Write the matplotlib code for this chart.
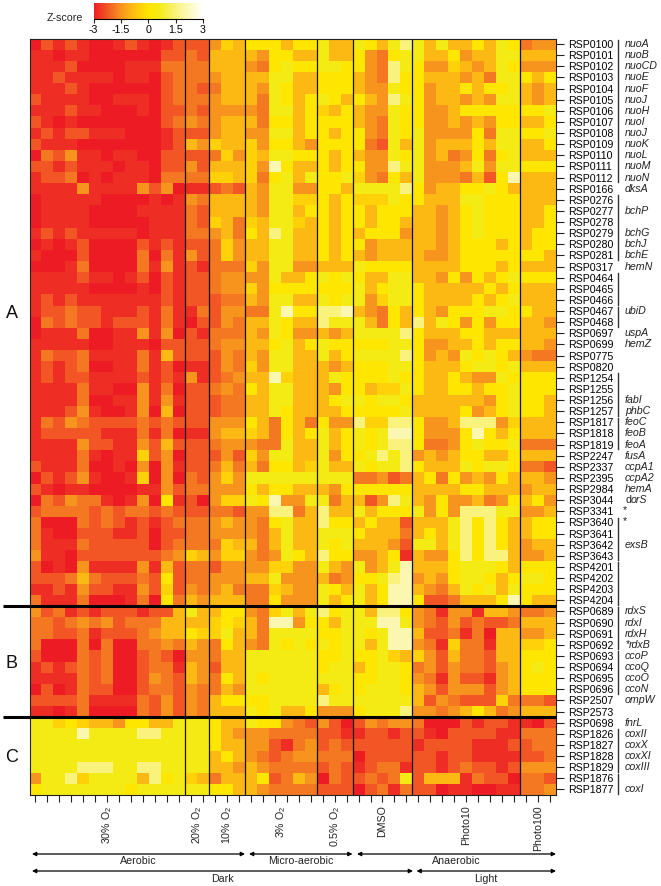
import numpy as np
import matplotlib
matplotlib.use("Agg")
import matplotlib.pyplot as plt
from matplotlib.colors import LinearSegmentedColormap

plt.rcParams['font.family'] = ['Liberation Sans', 'DejaVu Sans']
plt.rcParams['mathtext.default'] = 'regular'
plt.rcParams['axes.unicode_minus'] = False

# z-score of each level code used in the rows below
z_levels = [-3, -2.75, -2.25, -1.85, -1.5, -0.9, -0.4, 0, 0.6, 1.5, 2.1]

conditions = ['30% O$_2$', '20% O$_2$', '10% O$_2$', '3% O$_2$', '0.5% O$_2$', 'DMSO', 'Photo10', 'Photo100']
condition_sizes = [13, 2, 3, 6, 3, 5, 9, 3]

rows_a = [
    "0212100121012 22 465 777577 855 87589 858557587 344",
    "1101100000022 32 555 547755 855 74378 855745588 555",
    "1112000011133 33 555 437877 887 74398 744654587 444",
    "1121111011023 33 455 558855 777 54397 755545388 757",
    "1112100000023 32 355 548755 777 54487 745575778 545",
    "2111100111023 33 455 538757 875 75498 745545488 545",
    "1112110001022 32 444 438857 657 54487 744577777 778",
    "2101000000023 43 455 537757 777 54387 744545477 557",
    "1212211100012 22 455 448857 757 74387 844447388 778",
    "2111000000012 54 655 647754 777 73285 845557588 557",
    "0324110110022 22 364 658877 757 54487 845347378 555",
    "2212111011022 42 555 64a755 757 74498 844458488 777",
    "1223010111033 33 665 637858 778 64375 84443527a 555",
    "1111411114240 11 232 548844 775 88889 745577875 555",
    "0111110000101 43 555 548866 757 66687 755588777 555",
    "0111100001111 32 555 548857 757 75777 554578777 557",
    "0111100000111 32 653 658865 757 75775 554578777 557",
    "1212111110111 33 453 759855 757 57774 554578777 577",
    "0101200002121 22 364 558855 757 74555 554577757 577",
    "1000200003031 42 364 558855 757 54555 544577777 775",
    "0001300003141 21 333 648844 555 87777 555577757 555",
    "1111211012021 22 344 448557 878 75588 554747578 777",
    "1111100001021 22 344 647777 777 85788 755555757 555",
    "1212111111121 22 233 548855 878 84688 755557578 555",
    "1223221112131 13 244 338a77 99a 54375 754777887 755",
    "0323221222131 02 243 558755 988 85375 958747477 554",
    "0111300114140 21 333 548744 545 88889 755577555 555",
    "1111100111022 22 344 557857 877 77788 744557577 554",
    "1322311113152 22 243 548855 857 88889 745487875 433",
    "1212300113120 11 243 648855 545 77788 755578878 555",
    "1212211112121 41 234 55a655 587 77787 755754487 777",
    "1111311004130 22 343 758855 547 75668 755775778 777",
    "1111300114141 22 233 558855 578 87887 555555478 775",
    "1112410014050 22 233 558755 557 77778 555574578 775",
    "1324322223232 22 444 753753 744 96699 744599946 555",
    "1222221113130 11 455 653757 857 878aa 74447a757 555",
    "1111422114252 22 344 433855 857 87899 733478778 333",
    "1111310116240 22 242 648855 847 78989 454577557 555",
    "2111300104041 22 353 537756 855 87889 755587887 332",
    "0212410016040 32 464 888888 888 33423 573745475 554",
    "2101100001142 33 444 757755 547 77777 555577555 455",
    "0324331014071 20 466 87a448 835 52498 547445347 574",
    "2333323233232 22 332 449935 955 85777 847499988 445",
    "3000323212123 33 454 437855 977 57552 555897975 577",
    "3100222112022 33 444 435855 888 75553 575897975 577",
    "3111322222023 33 365 535855 878 55542 885897975 455",
    "4110222222234 65 466 434875 977 44571 544797995 445",
    "2010411114152 33 244 446644 854 8458a 555788875 777",
    "2223532223272 33 444 558444 534 7789a 454788757 887",
    "1121422114262 43 453 336544 875 857aa 543587858 777",
    "3111300013073 54 555 337444 857 857aa 72235557a 755",
]
rows_b = [
    "4231212221225 85 577 436858 978 85997 431441554 334",
    "3323434233355 55 676 53aa47 758 88aa8 432423223 555",
    "3322312223455 76 685 538888 778 878aa 522313055 445",
    "3000303003343 54 375 438787 878 858aa 431633155 667",
    "2000323002320 44 355 888888 778 77865 642533255 777",
    "1212323002331 54 255 888888 788 57887 342433245 787",
    "1111323002432 54 375 878888 888 77887 431422145 777",
    "0201322002332 43 354 888888 578 78887 542444245 777",
    "2222311113242 43 577 778888 988 88888 524322263 332",
    "1101300003242 43 555 878557 444 78889 443457534 555",
]
rows_c = [
    "8867655477558 88 755 877432 420 24344 300021221 102",
    "8888a88889988 88 754 443333 221 12212 210222211 333",
    "8888888888888 88 755 442134 232 22222 122221112 233",
    "8888888888888 88 575 432344 333 02222 221221111 223",
    "8888999889988 88 554 543333 232 12331 221232212 444",
    "4889688885978 65 355 572354 032 23238 255513220 332",
    "7888888878888 88 775 543333 222 02313 220110011 334",
]

rsp_ids = ['RSP0100', 'RSP0101', 'RSP0102', 'RSP0103', 'RSP0104', 'RSP0105', 'RSP0106', 'RSP0107', 'RSP0108',
           'RSP0109', 'RSP0110', 'RSP0111', 'RSP0112', 'RSP0166', 'RSP0276', 'RSP0277', 'RSP0278', 'RSP0279',
           'RSP0280', 'RSP0281', 'RSP0317', 'RSP0464', 'RSP0465', 'RSP0466', 'RSP0467', 'RSP0468', 'RSP0697',
           'RSP0699', 'RSP0775', 'RSP0820', 'RSP1254', 'RSP1255', 'RSP1256', 'RSP1257', 'RSP1817', 'RSP1818',
           'RSP1819', 'RSP2247', 'RSP2337', 'RSP2395', 'RSP2984', 'RSP3044', 'RSP3341', 'RSP3640', 'RSP3641',
           'RSP3642', 'RSP3643', 'RSP4201', 'RSP4202', 'RSP4203', 'RSP4204', 'RSP0689', 'RSP0690', 'RSP0691',
           'RSP0692', 'RSP0693', 'RSP0694', 'RSP0695', 'RSP0696', 'RSP2507', 'RSP2573', 'RSP0698', 'RSP1826',
           'RSP1827', 'RSP1828', 'RSP1829', 'RSP1876', 'RSP1877']
gene_names = ['nuoA', 'nuoB', 'nuoCD', 'nuoE', 'nuoF', 'nuoJ', 'nuoH', 'nuoI', 'nuoJ', 'nuoK', 'nuoL', 'nuoM', 'nuoN',
              'dksA', '', 'bchP', '', 'bchG', 'bchJ', 'bchE', 'hemN', '', '', '', 'ubiD', '', 'uspA', 'hemZ', '', '',
              '', '', 'fabI', 'phbC', 'feoC', 'feoB', 'feoA', 'fusA', 'ccpA1', 'ccpA2', 'hemA', 'dorS', '', '', '',
              'exsB', '', '', '', '', '', 'rdxS', 'rdxI', 'rdxH', 'rdxB', 'ccoP', 'ccoQ', 'ccoO', 'ccoN', 'ompW', '',
              'fnrL', 'coxII', 'coxX', 'coxXI', 'coxIII', '', 'coxI']
starred_rows = {42: 623, 43: 623, 54: 625.5}
operons = [(0, 12), (14, 19), (21, 23), (24, 25), (30, 33), (34, 36), (43, 46), (47, 50), (51, 54), (55, 58),
           (62, 65), (66, 67)]

cbar_ticks = [-3, -1.5, 0, 1.5, 3]
cbar_labels = ['-3', '-1.5', '0', '1.5', '3']

W, H = 661, 886
LEFT, RIGHT, TOP, BOTTOM = 29.5, 556.0, 38.5, 795.0


def decode(rows):
    out = []
    for i, r in enumerate(rows):
        codes = r.replace(' ', '')
        if len(codes) != 44:
            print('bad row', i, len(codes))
        out.append([z_levels[int(c, 16)] for c in codes])
    return out


def px_axes(fig, x0, y0, x1, y1, **kw):
    return fig.add_axes([x0 / W, 1 - y1 / H, (x1 - x0) / W, (y1 - y0) / H], **kw)


def main():
    z = np.array(decode(rows_a) + decode(rows_b) + decode(rows_c))
    cmap = LinearSegmentedColormap.from_list('zscore', [
        (0.0, '#ED1C24'), (0.8 / 6, '#F15A24'), (1.5 / 6, '#F7941E'), (2.1 / 6, '#FDB913'),
        (0.5, '#FFE600'), (3.6 / 6, '#F5EB14'), (4.5 / 6, '#F9F27A'), (1.0, '#FFFFFF')])

    fig = plt.figure(figsize=(W / 100, H / 100), dpi=100)

    ax = px_axes(fig, LEFT, TOP, RIGHT, BOTTOM)
    mesh = ax.pcolormesh(np.arange(z.shape[1] + 1), np.arange(z.shape[0] + 1), z, cmap=cmap, vmin=-3, vmax=3)
    ax.set_ylim(z.shape[0], 0)
    ax.set_xticks(np.arange(z.shape[1]) + 0.5)
    ax.set_xticklabels([])
    ax.set_yticks(np.arange(z.shape[0]) + 0.5)
    ax.set_yticklabels(rsp_ids)
    ax.yaxis.tick_right()
    ax.tick_params(axis='y', length=5.5, width=0.8, pad=3.5, labelsize=7.7, color='#222222')
    ax.tick_params(axis='x', length=5, width=0.8, pad=1, color='#222222')
    for s in ax.spines.values():
        s.set_linewidth(0.8)
        s.set_color('#222222')

    edges = np.cumsum(condition_sizes)
    for e in edges[:-1]:
        ax.axvline(e, color='#111111', lw=0.9)

    # everything outside the heatmap is placed in pixel coordinates
    ov = fig.add_axes([0, 0, 1, 1], facecolor='none')
    ov.set_xlim(0, W)
    ov.set_ylim(H, 0)
    ov.axis('off')

    row_h = (BOTTOM - TOP) / z.shape[0]
    col_w = (RIGHT - LEFT) / z.shape[1]

    for n in (51, 61):
        y = TOP + n * row_h
        ov.plot([3, RIGHT], [y, y], color='black', lw=2.2, solid_capstyle='butt')

    for i, name in enumerate(gene_names):
        y = TOP + (i + 0.5) * row_h
        if name == 'dorS':
            ov.text(625, y, 'd', fontsize=7.7, va='center', ha='left', color='#222222')
            ov.text(630.7, y, 'orS', style='italic', fontsize=7.7, va='center', ha='left', color='#222222')
        elif name == 'rdxB':
            ov.text(628.5, y, name, style='italic', fontsize=7.7, va='center', ha='left', color='#222222')
        elif name:
            ov.text(625, y, name, style='italic', fontsize=7.7, va='center', ha='left', color='#222222')
    for i, x in starred_rows.items():
        ov.text(x, TOP + (i + 0.5) * row_h - 1, '*', fontsize=7.7, va='center', ha='left', color='#222222')
    for a, b in operons:
        ov.plot([617.7, 617.7], [TOP + a * row_h + 1, TOP + (b + 1) * row_h - 1], color='#333333', lw=1.0)

    starts = np.concatenate([[0], edges[:-1]])
    for label, s, e in zip(conditions, starts, edges):
        ov.text(LEFT + (s + e) / 2 * col_w, 805.5, label, rotation=90, fontsize=7.7, ha='center', va='top',
                color='#222222')

    arrows = [(32, 245, 854, 'Aerobic'), (249, 352.5, 854, 'Micro-aerobic'), (357, 556, 854, 'Anaerobic'),
              (32, 413, 871, 'Dark'), (416.5, 556, 871, 'Light')]
    for x0, x1, y, label in arrows:
        ov.annotate('', xy=(x1, y), xytext=(x0, y),
                    arrowprops=dict(arrowstyle='<|-|>', color='black', lw=0.9, mutation_scale=6, shrinkA=0, shrinkB=0))
        ov.text((x0 + x1) / 2, y + 7.5, label, fontsize=7.7, ha='center', va='center', color='#222222')

    for letter, y in (('A', 314), ('B', 663), ('C', 757)):
        ov.text(11.5, y, letter, fontsize=13, ha='center', va='center', color='#111111')

    ov.text(83, 18, 'Z-score', fontsize=7.7, ha='right', va='center', color='#222222')

    cax = px_axes(fig, 93.5, 3, 203, 19)
    cbar = fig.colorbar(mesh, cax=cax, orientation='horizontal', ticks=cbar_ticks)
    cbar.ax.set_xticklabels(cbar_labels)
    cbar.outline.set_visible(False)
    cax.spines['bottom'].set_visible(True)
    cax.spines['bottom'].set_linewidth(0.8)
    cax.tick_params(length=3, width=0.8, pad=1.5, labelsize=7.7, color='#222222')

    fig.savefig('out.png', dpi=100)


if __name__ == "__main__":
    main()
